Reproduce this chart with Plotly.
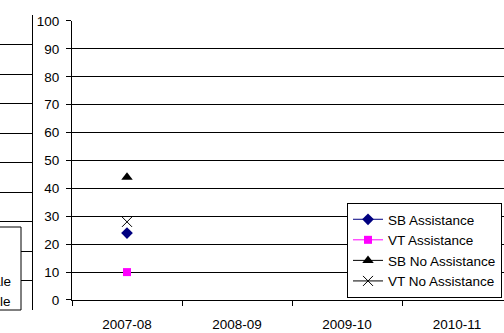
import plotly.graph_objects as go

years = ["2007-08", "2008-09", "2009-10", "2010-11"]
sb_assist = [24, None, None, None]
vt_assist = [10, None, None, None]
sb_no_assist = [44, None, None, None]
vt_no_assist = [28, None, None, None]

# neighbouring chart, only its right edge shows in the picture
left_legend_text = ["ale", "le"]

FONT = dict(family="Liberation Sans, Arial, sans-serif", size=13.5, color="black")

fig = go.Figure()
fig.add_trace(go.Scatter(x=years, y=sb_assist, name="SB Assistance", mode="lines+markers",
                         line=dict(color="#000080", width=1),
                         marker=dict(symbol="diamond", size=9, color="#000080")))
fig.add_trace(go.Scatter(x=years, y=vt_assist, name="VT Assistance", mode="lines+markers",
                         line=dict(color="#FF00FF", width=1),
                         marker=dict(symbol="square", size=8, color="#FF00FF")))
fig.add_trace(go.Scatter(x=years, y=sb_no_assist, name="SB No Assistance", mode="lines+markers",
                         line=dict(color="black", width=1),
                         marker=dict(symbol="triangle-up", size=10, color="black")))
fig.add_trace(go.Scatter(x=years, y=vt_no_assist, name="VT No Assistance", mode="lines+markers",
                         line=dict(color="black", width=1),
                         marker=dict(symbol="x-thin", size=10, line=dict(color="black", width=1))))

# fragment of the chart to the left
fig.add_trace(go.Scatter(x=[None], y=[None], xaxis="x2", yaxis="y2", showlegend=False))

fig.update_layout(
    width=504, height=333,
    margin=dict(l=0, r=0, t=15, b=23, autoexpand=False),
    paper_bgcolor="white", plot_bgcolor="white",
    font=FONT,
    xaxis=dict(domain=[72 / 504, 1], type="category", range=[-0.5, 3.427],
               tickson="boundaries", ticks="outside", ticklen=5, tickcolor="black",
               showline=True, linecolor="black", linewidth=1, showgrid=False,
               ticklabelstandoff=12, zeroline=False, automargin=False),
    yaxis=dict(domain=[0.0339, 0.9797], range=[0, 100], dtick=10,
               ticks="outside", ticklen=5, tickcolor="black",
               showline=True, linecolor="black", linewidth=1,
               gridcolor="black", gridwidth=1, zeroline=False, ticklabelstandoff=4,
               automargin=False),
    xaxis2=dict(domain=[0, 32 / 504], range=[0, 1], anchor="y2", visible=False,
                automargin=False),
    yaxis2=dict(domain=[0, 1], range=[0, 100], dtick=10, anchor="x2", side="right",
                showticklabels=False, ticks="", showline=True, linecolor="black",
                gridcolor="black", zeroline=False, automargin=False),
    legend=dict(x=502 / 504, y=(310 - 203) / 295, xanchor="right", yanchor="top",
                bgcolor="white", bordercolor="black", borderwidth=1,
                itemwidth=30, font=FONT, tracegroupgap=0),
    shapes=[dict(type="rect", xref="paper", yref="paper", x0=-0.01, x1=21 / 504,
                 y0=0.0, y1=(310 - 227) / 295, fillcolor="white",
                 line=dict(color="black", width=1), layer="above")],
    annotations=[
        dict(text=left_legend_text[0], xref="paper", yref="paper", x=13 / 504,
             y=(310 - 281) / 295, xanchor="right", yanchor="middle", showarrow=False, font=FONT),
        dict(text=left_legend_text[1], xref="paper", yref="paper", x=13 / 504,
             y=(310 - 301) / 295, xanchor="right", yanchor="middle", showarrow=False, font=FONT),
    ],
)

# page body has an 8px default margin; drop it so the figure sits at the corner
fig.write_html("out.html", config={"displayModeBar": False},
               post_script="document.body.style.margin='0';")
